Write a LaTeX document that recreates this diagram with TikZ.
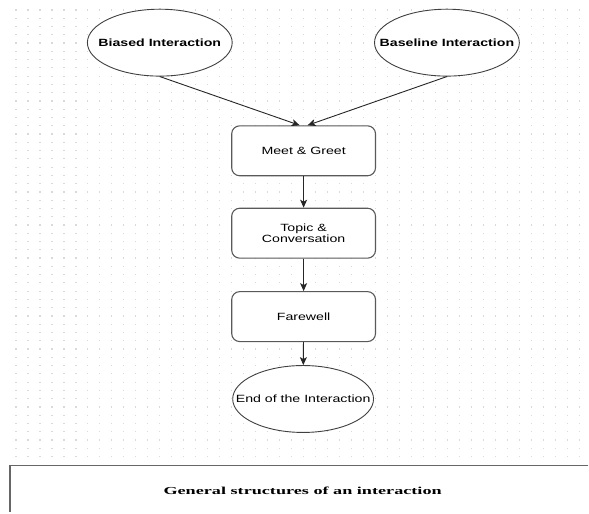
\documentclass[tikz,border=0pt]{standalone}
\usepackage{fontspec}
\setmainfont{Liberation Sans}
\newfontfamily\diagfont[FakeStretch=1.35]{Liberation Sans}
\newfontfamily\captfont[FakeStretch=1.7]{Liberation Serif}
\usetikzlibrary{shapes.geometric,arrows.meta}

\begin{document}
\begin{tikzpicture}[x=1pt, y=-1pt,
    oval/.style={ellipse, draw=black!75, line width=0.9pt, fill=white, minimum width=145pt, minimum height=67pt, inner sep=0pt, font=\diagfont\bfseries\fontsize{10.5}{12}\selectfont},
    stage/.style={rectangle, rounded corners=8pt, draw=black!65, line width=1.1pt, fill=white, minimum width=144pt, minimum height=50pt, align=center, font=\diagfont\fontsize{10.5}{11.5}\selectfont},
    flow/.style={-{Stealth[length=8pt,width=7pt,inset=2pt]}, line width=0.9pt, black!85}]
    \fill[white] (0,0) rectangle (589,513);
    % dotted grid
    \foreach \i in {0,...,47}
      \foreach \j in {0,...,54}
        \fill[black!15] (15.4+12*\i, 9.4+8.28*\j) rectangle ++(1.2,1.2);
    \node[oval] (biased) at (160,42.7) {\makebox[0pt]{Biased Interaction}};
    \node[oval] (baseline) at (447.5,42.7) {\makebox[0pt]{Baseline Interaction}};
    \node[stage] (meet) at (304,151) {Meet \& Greet};
    \node[stage] (topic) at (304,233.5) {Topic \&\\Conversation};
    \node[stage] (farewell) at (304,317) {Farewell};
    \node[oval, minimum width=141pt, font=\diagfont\fontsize{10.5}{12}\selectfont] (endi) at (303.5,399.5) {\makebox[0pt]{End of the Interaction}};
    \draw[flow] (biased.south) -- ([xshift=-4pt]meet.north);
    \draw[flow] (baseline.south) -- ([xshift=4pt]meet.north);
    \draw[flow] (meet) -- (topic);
    \draw[flow] (topic) -- (farewell);
    \draw[flow] (farewell) -- (endi);
    % caption frame
    \draw[black!60, line width=1.5pt] (589,466) -- (10,466) -- (10,513);
    \node[font=\captfont\bfseries\fontsize{10.7}{12}\selectfont] (caption) at (303,491) {General structures of an interaction};
\end{tikzpicture}
\end{document}
